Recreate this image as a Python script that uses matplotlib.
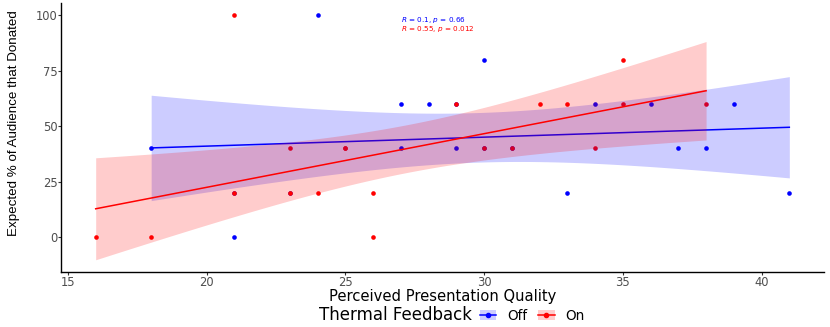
import numpy as np
import matplotlib
matplotlib.use("Agg")
import matplotlib.pyplot as plt
from matplotlib.patches import Patch
from matplotlib.lines import Line2D

# ---- data ----
off_x = [18, 21, 24, 27, 27, 28, 29, 30, 33, 34, 36, 37, 38, 39, 41,
         21, 23, 30, 31, 29]
off_y = [40, 0, 100, 40, 60, 60, 40, 80, 20, 60, 60, 40, 40, 60, 20,
         20, 20, 40, 40, 60]
on_x = [16, 18, 21, 21, 23, 23, 24, 25, 26, 26, 29, 30, 31, 32, 33, 34, 35, 35, 38, 25]
on_y = [0, 0, 100, 20, 20, 40, 20, 40, 20, 0, 60, 40, 40, 60, 60, 40, 60, 80, 60, 40]
group_labels = ["Off", "On"]
stat_labels = [r"$R$ = 0.1, $p$ = 0.66", r"$R$ = 0.55, $p$ = 0.012"]
x_ticks = [15, 20, 25, 30, 35, 40]
y_ticks = [0, 25, 50, 75, 100]
T_CRIT = 2.100922  # t(0.975, df = 18)

colors = ["#0000FF", "#FF0000"]

W, H = 830, 327
fig = plt.figure(figsize=(W / 100, H / 100), dpi=100)
ax = fig.add_axes([61 / W, 1 - 272 / H, (824 - 61) / W, (272 - 3) / H])


def lm_fit(x, y):
    x = np.asarray(x, float)
    y = np.asarray(y, float)
    n = len(x)
    xb, yb = x.mean(), y.mean()
    sxx = ((x - xb) ** 2).sum()
    sxy = ((x - xb) * (y - yb)).sum()
    b = sxy / sxx
    a = yb - b * xb
    resid = y - (a + b * x)
    s = np.sqrt((resid ** 2).sum() / (n - 2))
    xs = np.linspace(x.min(), x.max(), 80)
    fit = a + b * xs
    se = s * np.sqrt(1 / n + (xs - xb) ** 2 / sxx)
    return xs, fit, fit - T_CRIT * se, fit + T_CRIT * se


groups = [(off_x, off_y), (on_x, on_y)]
# points first (ribbons are drawn over them, as in the reference)
for (gx, gy), c in zip(groups, colors):
    ax.scatter(gx, gy, s=11, color=c, linewidths=0, zorder=2)
z = 3
for (gx, gy), c in zip(groups, colors):
    xs, fit, lo, hi = lm_fit(gx, gy)
    ax.fill_between(xs, lo, hi, color=c, alpha=0.2, linewidth=0, zorder=z)
    ax.plot(xs, fit, color=c, lw=1.1, zorder=z + 1)
    z += 2

# correlation labels
ax.text(27.0, 98.0, stat_labels[0], color=colors[0], fontsize=5.2,
        ha="left", va="center", zorder=10)
ax.text(27.0, 94.0, stat_labels[1], color=colors[1], fontsize=5.2,
        ha="left", va="center", zorder=10)

ax.margins(x=0.05, y=0.05)
ax.set_xticks(x_ticks)
ax.set_yticks(y_ticks)
for sp in ["top", "right"]:
    ax.spines[sp].set_visible(False)
for sp in ["left", "bottom"]:
    ax.spines[sp].set_linewidth(1.0)
    ax.spines[sp].set_color("black")
ax.tick_params(axis="both", length=2.0, width=0.8, color="#333333",
               labelcolor="#4D4D4D", labelsize=8.3, pad=0.6)

ax.set_xlabel("Perceived Presentation Quality", fontsize=10.6, color="black",
              va="center")
ax.xaxis.set_label_coords(0.5, (272 - 296.5) / 269)
ax.set_ylabel("Expected % of Audience that Donated", fontsize=9.6,
              family="Liberation Sans", color="black", va="center")
ax.yaxis.set_label_coords((14.5 - 61) / 763, (272 - 123) / 269)

# legend
handles = []
for c in colors:
    handles.append((Patch(facecolor=c, alpha=0.2, edgecolor="none"),
                    Line2D([], [], color=c, lw=1.1, marker="o", markersize=3)))
fig.text(472 / W, 1 - 315.5 / H, "Thermal Feedback", fontsize=12,
         ha="right", va="center")
fig.legend(handles, group_labels, loc="center left",
           bbox_to_anchor=(480 / W, 1 - 315.5 / H), ncol=2, frameon=False,
           fontsize=9.8, handlelength=1.2, handleheight=0.75,
           handletextpad=0.8, columnspacing=0.8, borderpad=0,
           borderaxespad=0)

fig.savefig("out.png", dpi=100)
